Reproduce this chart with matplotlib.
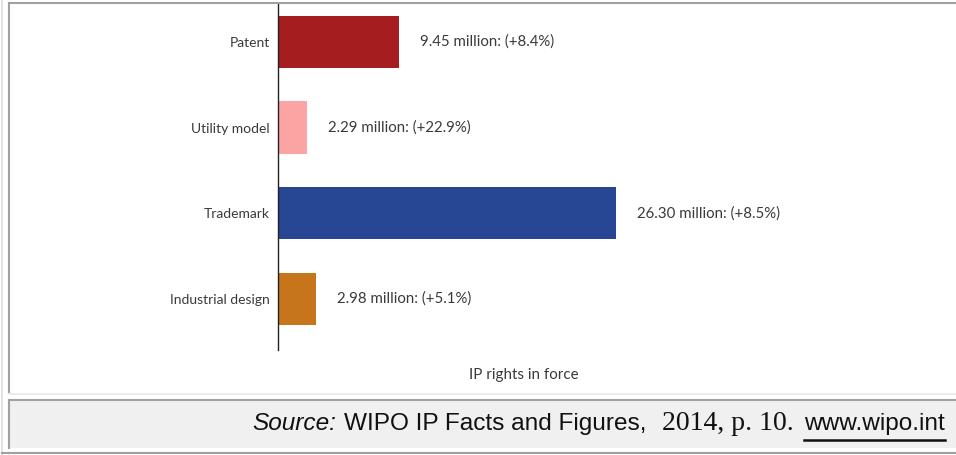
import matplotlib
matplotlib.use("Agg")
import matplotlib.pyplot as plt
from matplotlib.patches import Rectangle
from matplotlib.lines import Line2D

categories = ["Patent", "Utility model", "Trademark", "Industrial design"]
values = [9.45, 2.29, 26.30, 2.98]
growth = ["+8.4%", "+22.9%", "+8.5%", "+5.1%"]
colors = ["#a61d20", "#fca3a3", "#274693", "#c6751a"]
xlabel = "IP rights in force"

W, H = 956, 455
fig = plt.figure(figsize=(W / 100, H / 100), dpi=100)
fig.patch.set_facecolor("white")

def fx(px):
    return px / W

def fy(py):
    return 1 - py / H

# Frame decorations
fig.add_artist(Line2D([fx(2), fx(2)], [fy(0), fy(455)], color="#e2e2e2", lw=1.5))
fig.add_artist(Line2D([fx(9), fx(9)], [fy(3), fy(393)], color="#a0a0a0", lw=1.5))
fig.add_artist(Line2D([fx(9), fx(956)], [fy(3), fy(3)], color="#a0a0a0", lw=1.5))
fig.add_artist(Line2D([fx(9), fx(956)], [fy(393.5), fy(393.5)], color="#ececec", lw=1.5))
fig.add_artist(Rectangle((fx(9), fy(448)), fx(956 - 9), (448 - 400) / H,
                         facecolor="#f0f0f0", edgecolor="none"))
fig.add_artist(Line2D([fx(9), fx(956)], [fy(400), fy(400)], color="#a0a0a0", lw=1.5))
fig.add_artist(Line2D([fx(9), fx(9)], [fy(400), fy(448)], color="#a0a0a0", lw=1.5))
fig.add_artist(Line2D([fx(2), fx(956)], [fy(453), fy(453)], color="#a0a0a0", lw=1.5))

# Axes
ax_left, ax_right, ax_top, ax_bot = 278, 900, 3, 350
ax = fig.add_axes([fx(ax_left), fy(ax_bot), (ax_right - ax_left) / W, (ax_bot - ax_top) / H])
ax.set_facecolor("none")
px_per_unit = 12.85
ax.set_xlim(0, (ax_right - ax_left) / px_per_unit)
ax.set_ylim(3.60, -0.456)

ypos = list(range(len(categories)))
ax.barh(ypos, values, height=0.61, color=colors, edgecolor="none")
for y, v, g in zip(ypos, values, growth):
    ax.text(v + 21 / px_per_unit, y, f"{v:.2f} million: ({g})", va="center", ha="left",
            fontsize=10.8, color="#3a3a3a", family="Lato")

ax.set_yticks(ypos)
ax.set_yticklabels(categories, fontsize=10, color="#3a3a3a", family="Lato")
ax.tick_params(axis="y", length=0, pad=5.8)
ax.set_xticks([])
for s in ["top", "right", "bottom"]:
    ax.spines[s].set_visible(False)
ax.spines["left"].set_color("#222222")
ax.spines["left"].set_linewidth(1.0)

fig.text(fx(524), fy(375), xlabel, ha="center", va="center", fontsize=10.9,
         color="#3a3a3a", family="Lato")

# Caption
fs = 17.6
fs_serif = 20
yc = fy(424)
t1 = fig.text(fx(945), yc, "www.wipo.int", ha="right", va="center", fontsize=fs,
              family="Liberation Sans", color="#111111")
fig.canvas.draw()
r = fig.canvas.get_renderer()
bb = t1.get_window_extent(r)
fig.add_artist(Line2D([bb.x0 / W, bb.x1 / W], [fy(440), fy(440)], color="#111111", lw=1.8))
x_right = bb.x0 - 10
t2 = fig.text(x_right / W, yc, "2014, p. 10.", ha="right", va="center", fontsize=fs_serif,
              family="Liberation Serif", color="#111111")
bb = t2.get_window_extent(r)
x_right = bb.x0 - 16
t3 = fig.text(x_right / W, yc, "WIPO IP Facts and Figures,", ha="right", va="center",
              fontsize=fs, family="Liberation Sans", color="#111111")
bb = t3.get_window_extent(r)
x_right = bb.x0 - 8
fig.text(x_right / W, yc, "Source:", ha="right", va="center", fontsize=fs,
         family="Liberation Sans", style="italic", color="#111111")

fig.savefig("out.png", dpi=100)
